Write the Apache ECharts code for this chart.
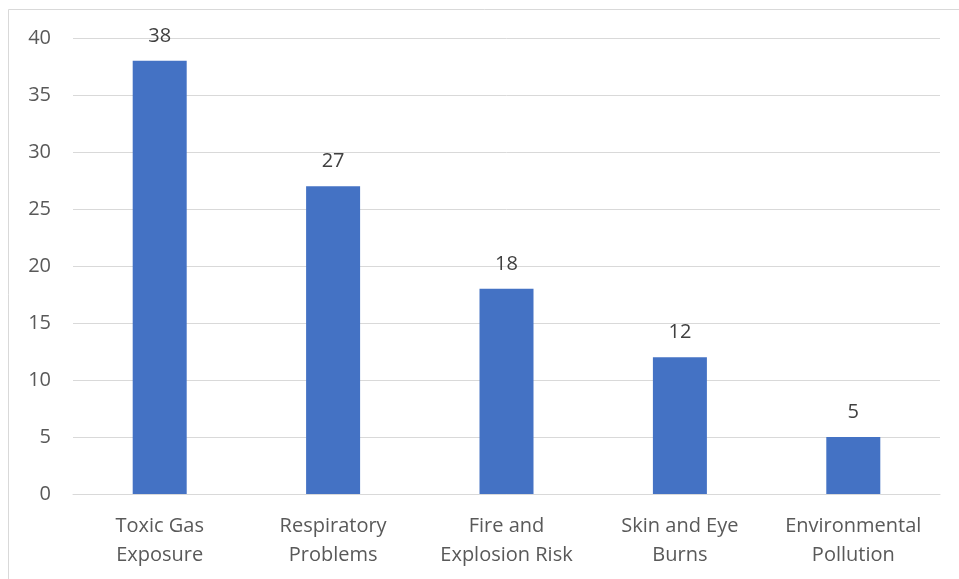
<!DOCTYPE html>
<html>
<head>
<meta charset="utf-8">
<script src="https://cdn.jsdelivr.net/npm/echarts@6/dist/echarts.min.js"></script>
<style>
  html, body { margin: 0; padding: 0; background: #fff; }
  #chart { width: 959px; height: 579px; }
</style>
</head>
<body>
<div id="chart"></div>
<script>
const categories = [
  'Toxic Gas\nExposure',
  'Respiratory\nProblems',
  'Fire and\nExplosion Risk',
  'Skin and Eye\nBurns',
  'Environmental\nPollution'
];
const values = [38, 27, 18, 12, 5];
const yTicks = { min: 0, max: 40, interval: 5 };

const textColor = '#595959';
const fontFamily = '"Open Sans", "Noto Sans", sans-serif';

const chart = echarts.init(document.getElementById('chart'), null, { renderer: 'canvas' });
chart.setOption({
  animation: false,
  backgroundColor: '#ffffff',
  graphic: [{
    type: 'rect',
    shape: { x: 8.5, y: 9.5, width: 960, height: 580 },
    style: { fill: 'none', stroke: '#d9d9d9', lineWidth: 1 },
    silent: true
  }],
  grid: { left: 73, right: 19, top: 38, bottom: 85, containLabel: false },
  xAxis: {
    type: 'category',
    data: categories,
    axisLine: { show: true, lineStyle: { color: '#d9d9d9', width: 1 } },
    axisTick: { show: false },
    axisLabel: {
      color: textColor,
      fontFamily: fontFamily,
      fontSize: 20,
      lineHeight: 29,
      margin: 18,
      interval: 0
    }
  },
  yAxis: {
    type: 'value',
    min: yTicks.min,
    max: yTicks.max,
    interval: yTicks.interval,
    axisLine: { show: false },
    axisTick: { show: false },
    splitLine: { lineStyle: { color: '#d9d9d9', width: 1 } },
    axisLabel: {
      color: textColor,
      fontFamily: fontFamily,
      fontSize: 20,
      margin: 22
    }
  },
  series: [{
    type: 'bar',
    data: values,
    barWidth: 54,
    itemStyle: { color: '#4472C4' },
    label: {
      show: true,
      position: 'top',
      distance: 15,
      color: '#404040',
      fontFamily: fontFamily,
      fontSize: 20
    }
  }]
});
</script>
</body>
</html>
